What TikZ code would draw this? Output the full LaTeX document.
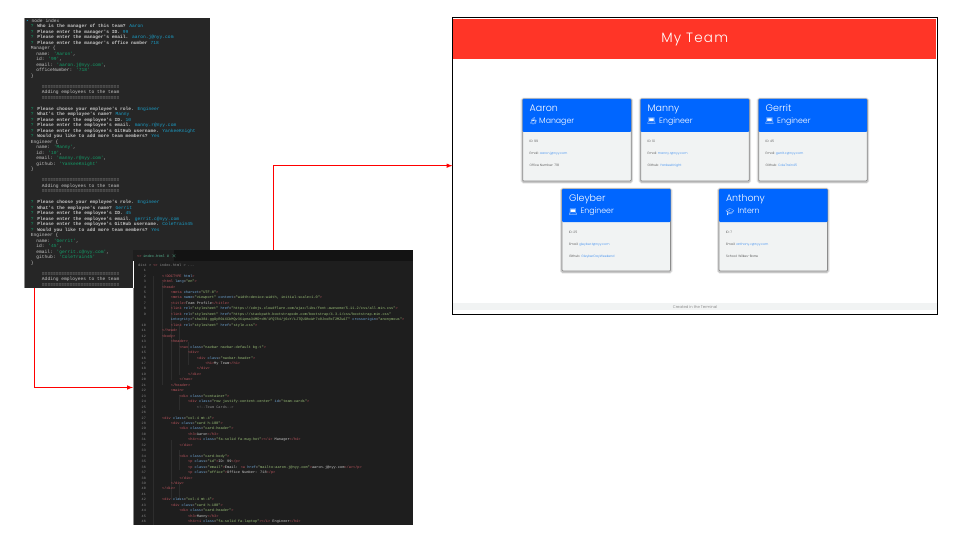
\documentclass[tikz,border=0pt]{standalone}
\usepackage{fontspec}
\usetikzlibrary{positioning}
\usetikzlibrary{calc}
\setmainfont{Poppins Light}[BoldFont=Poppins]
\newfontfamily\termfont{Liberation Mono}
\newfontfamily\emojifont{Noto Emoji}
\newfontfamily\spacedfont[LetterSpace=9]{Poppins Light}
\definecolor{termbg}{HTML}{262626}
\definecolor{termtext}{HTML}{C4C4C4}
\definecolor{termcyan}{HTML}{1A9FC9}
\definecolor{termgreen}{HTML}{12A06A}
\definecolor{codebg}{HTML}{1E1E1E}
\definecolor{codeguide}{HTML}{2D2D2D}
\definecolor{tabbg}{HTML}{131313}
\definecolor{codegrey}{HTML}{8A8A8A}
\definecolor{codetag}{HTML}{C0565F}
\definecolor{codeattr}{HTML}{6FA8D8}
\definecolor{codestr}{HTML}{9CC27A}
\definecolor{codetext}{HTML}{C8C8C8}
\definecolor{teamred}{HTML}{FF3527}
\definecolor{cardblue}{HTML}{0066FF}
\definecolor{cardgrey}{HTML}{F1F3F3}
\definecolor{linkblue}{HTML}{2F86F0}
\newcommand{\termq}[2]{\textcolor{termgreen}{?} \textbf{#1} \textcolor{termcyan}{#2}}
\newcommand{\termkv}[2]{#1: \textcolor{termgreen}{#2}}
\newcommand{\ctag}[1]{\textcolor{codetag}{#1}}
\newcommand{\cattr}[2]{\textcolor{codeattr}{#1}=\textcolor{codestr}{"#2"}}
\tikzset{
  termline/.style={anchor=base west,inner sep=0pt,text=termtext,font=\termfont\fontsize{4.6}{5}\selectfont},
  codeline/.style={anchor=base west,inner sep=0pt,text=codetext,font=\termfont\fontsize{3.6}{4}\selectfont},
  codenum/.style={anchor=base east,inner sep=0pt,text=codegrey,font=\termfont\fontsize{3.4}{4}\selectfont},
  cardbody/.style={anchor=north west,minimum width=108.5pt,minimum height=82pt,inner sep=0pt,outer sep=0pt,fill=cardgrey,draw=black!45,line width=.7pt,rounded corners=1pt,
    preaction={draw=black,draw opacity=.09,line width=4pt,transform canvas={yshift=-.6pt}},
    preaction={draw=black,draw opacity=.14,line width=2.4pt,transform canvas={yshift=-.6pt}}},
  cardhead/.style={anchor=north west,minimum width=108.5pt,minimum height=33pt,inner sep=0pt,outer sep=0pt,fill=cardblue,rounded corners=1pt},
  cardname/.style={anchor=base west,inner sep=0pt,text=white,font=\fontsize{9.5}{11}\selectfont},
  cardrole/.style={anchor=base west,inner sep=0pt,text=white,font=\fontsize{7.8}{9}\selectfont},
  cardicon/.style={anchor=base west,inner sep=0pt,text=white,font=\emojifont\fontsize{7}{9}\selectfont},
  cardfact/.style={anchor=base west,inner sep=0pt,text=black!75,font=\fontsize{3.2}{4}\selectfont},
  flow/.style={draw=red,line width=1pt,-latex}
}
\begin{document}
\begin{tikzpicture}[x=1pt,y=-1pt]
\useasboundingbox (0,0) rectangle (960,540);
\node[fill=termbg,minimum width=186pt,minimum height=270pt,inner sep=0pt,outer sep=0pt] (term) at (117,153) {};
\draw[black!45,line width=1pt] (24.5,18) -- (24.5,288);
\foreach \lev/\ltext [count=\rowno from 0] in {
-1.7/{\textcolor{termcyan}{\textbullet} node index},
0/{\termq{Who is the manager of this team?}{Aaron}},
0/{\termq{Please enter the manager's ID.}{99}},
0/{\termq{Please enter the manager's email.}{aaron.j@nyy.com}},
0/{\termq{Please enter the manager's office number}{718}},
0/{Manager \{},
2/{\termkv{name}{'Aaron'},},
2/{\termkv{id}{'99'},},
2/{\termkv{email}{'aaron.j@nyy.com'},},
2/{\termkv{officeNumber}{'718'}},
0/{\}},
0/{},
4/{============================},
4/{Adding employees to the team},
4/{============================},
0/{},
0/{\termq{Please choose your employee's role.}{Engineer}},
0/{\termq{What's the employee's name?}{Manny}},
0/{\termq{Please enter the employee's ID.}{10}},
0/{\termq{Please enter the employee's email.}{manny.r@nyy.com}},
0/{\termq{Please enter the employee's GitHub username.}{YankeeKnight}},
0/{\termq{Would you like to add more team members?}{Yes}},
0/{Engineer \{},
2/{\termkv{name}{'Manny'},},
2/{\termkv{id}{'10'},},
2/{\termkv{email}{'manny.r@nyy.com'},},
2/{\termkv{github}{'YankeeKnight'}},
0/{\}},
0/{},
4/{============================},
4/{Adding employees to the team},
4/{============================},
0/{},
0/{\termq{Please choose your employee's role.}{Engineer}},
0/{\termq{What's the employee's name?}{Gerrit}},
0/{\termq{Please enter the employee's ID.}{45}},
0/{\termq{Please enter the employee's email.}{gerrit.c@nyy.com}},
0/{\termq{Please enter the employee's GitHub username.}{ColeTrain45}},
0/{\termq{Would you like to add more team members?}{Yes}},
0/{Engineer \{},
2/{\termkv{name}{'Gerrit'},},
2/{\termkv{id}{'45'},},
2/{\termkv{email}{'gerrit.c@nyy.com'},},
2/{\termkv{github}{'ColeTrain45'}},
0/{\}},
0/{},
4/{============================},
4/{Adding employees to the team},
4/{============================}}
  \node[termline] (term\rowno) at ({30.7+\lev*2.77},{22.5+\rowno*5.49}) {\ltext};
\node[fill=codebg,draw=white,line width=.8pt,minimum width=280pt,minimum height=275pt,inner sep=0pt,outer sep=0pt] (editor) at (273,387.5) {};
\fill[tabbg] (133.4,250.4) rectangle (412.6,261);
\fill[codebg] (133.4,250.4) rectangle (174,261);
\draw[black!45,line width=1pt] (133.5,288) -- (133.5,525);
\node[codeline,text=termgreen!70!white] (tabname) at (143,257.2) {index.html U $\times$};
\node[codeline,text=codetag] (tabicon) at (137,257.2) {<>};
\node[codeline,text=codegrey] (crumb) at (138,266.2) {dist > \textcolor{codetag}{<>} index.html > ...};
\foreach \gx/\gtop/\gbot in {153.5/276/525,162/282/385,170.7/304/380,179.3/325/375,188/342/365,179.3/395/410,170.7/440/500,179.3/450/470,179.3/482/500}
  \draw[codeguide,line width=.4pt] (\gx,\gtop) -- (\gx,\gbot);
\foreach \lnum/\lev/\ltext [count=\rowno from 0] in {
1/0/{},
2/0/{\ctag{<!DOCTYPE} \textcolor{codeattr}{html}\ctag{>}},
3/0/{\ctag{<html} \cattr{lang}{en}\ctag{>}},
4/0/{\ctag{<head>}},
5/1/{\ctag{<meta} \cattr{charset}{UTF-8}\ctag{>}},
6/1/{\ctag{<meta} \cattr{name}{viewport} \cattr{content}{width=device-width, initial-scale=1.0}\ctag{>}},
7/1/{\ctag{<title>}Team Profile\ctag{</title>}},
8/1/{\ctag{<link} \cattr{rel}{stylesheet} \cattr{href}{https://cdnjs.cloudflare.com/ajax/libs/font-awesome/5.11.2/css/all.min.css}\ctag{>}},
9/1/{\ctag{<link} \cattr{rel}{stylesheet} \cattr{href}{https://stackpath.bootstrapcdn.com/bootstrap/4.3.1/css/bootstrap.min.css}},
{}/1/{\cattr{integrity}{sha384-ggOyR0iXCbMQv3Xipma34MD+dH/1fQ784/j6cY/iJTQUOhcWr7x9JvoRxT2MZw1T} \cattr{crossorigin}{anonymous}\ctag{>}},
10/1/{\ctag{<link} \cattr{rel}{stylesheet} \cattr{href}{style.css}\ctag{>}},
11/0/{\ctag{</head>}},
12/0/{\ctag{<body>}},
13/1/{\ctag{<header>}},
14/2/{\ctag{<nav} \cattr{class}{navbar navbar-default bg-t}\ctag{>}},
15/3/{\ctag{<div>}},
16/4/{\ctag{<div} \cattr{class}{navbar-header}\ctag{>}},
17/5/{\ctag{<h1>}My Team\ctag{</h1>}},
18/4/{\ctag{</div>}},
19/3/{\ctag{</div>}},
20/2/{\ctag{</nav>}},
21/1/{\ctag{</header>}},
22/1/{\ctag{<main>}},
23/2/{\ctag{<div} \cattr{class}{container}\ctag{>}},
24/3/{\ctag{<div} \cattr{class}{row justify-content-center} \cattr{id}{team-cards}\ctag{>}},
25/4/{\textcolor{codegrey}{<!--Team Cards-->}},
26/0/{},
27/0/{\ctag{<div} \cattr{class}{col-4 mt-4}\ctag{>}},
28/1/{\ctag{<div} \cattr{class}{card h-100}\ctag{>}},
29/2/{\ctag{<div} \cattr{class}{card-header}\ctag{>}},
30/3/{\ctag{<h3>}Aaron\ctag{</h3>}},
31/3/{\ctag{<h4><i} \cattr{class}{fa-solid fa-mug-hot}\ctag{></i>} Manager\ctag{</h4>}},
32/2/{\ctag{</div>}},
33/0/{},
34/2/{\ctag{<div} \cattr{class}{card-body}\ctag{>}},
35/3/{\ctag{<p} \cattr{class}{id}\ctag{>}ID: 99\ctag{</p>}},
36/3/{\ctag{<p} \cattr{class}{email}\ctag{>}Email: \ctag{<a} \cattr{href}{mailto:aaron.j@nyy.com}\ctag{>}aaron.j@nyy.com\ctag{</a></p>}},
37/3/{\ctag{<p} \cattr{class}{office}\ctag{>}Office Number: 718\ctag{</p>}},
38/2/{\ctag{</div>}},
39/1/{\ctag{</div>}},
40/0/{\ctag{</div>}},
41/0/{},
42/0/{\ctag{<div} \cattr{class}{col-4 mt-4}\ctag{>}},
43/1/{\ctag{<div} \cattr{class}{card h-100}\ctag{>}},
44/2/{\ctag{<div} \cattr{class}{card-header}\ctag{>}},
45/3/{\ctag{<h3>}Manny\ctag{</h3>}},
46/3/{\ctag{<h4><i} \cattr{class}{fa-solid fa-laptop}\ctag{></i>} Engineer\ctag{</h4>}}}
{
  \node[codenum] (num\rowno) at (146,{271.7+\rowno*5.457}) {\lnum};
  \node[codeline] (code\rowno) at ({162+\lev*8.67},{271.7+\rowno*5.457}) {\ltext};
}
\node[fill=white,draw=black,line width=1.1pt,minimum width=485.2pt,minimum height=296.8pt,inner sep=0pt,outer sep=0pt] (browser) at (695.1,165.7) {};
\node[fill=teamred,minimum width=482.6pt,minimum height=40pt,inner sep=0pt,outer sep=0pt] (banner) at (694.7,39.3) {};
\node[inner sep=0pt,text=white,font=\spacedfont\fontsize{13.5}{16}\selectfont] (bannertext) at (694.7,39.8) {My Team};
\node[fill=cardgrey,minimum width=484pt,minimum height=7pt,inner sep=0pt,outer sep=0pt,text=black!55,font=\fontsize{3.8}{5}\selectfont] (footer) at (695.1,306.7) {Created in the Terminal};
\foreach \cname/\cx/\cy/\cicon/\rx/\crole/\cid/\cmail/\cthird in {
Aaron/522.7/99/☕/16.3/Manager/99/aaron.j@nyy.com/{Office Number: 718},
Manny/640.7/99/💻/18.3/Engineer/10/manny.r@nyy.com/{Github: \textcolor{linkblue}{YankeeKnight}},
Gerrit/758.7/99/💻/18.3/Engineer/45/gerrit.c@nyy.com/{Github: \textcolor{linkblue}{ColeTrain45}},
Gleyber/562/189/💻/18.3/Engineer/25/gleyber.t@nyy.com/{Github: \textcolor{linkblue}{GleyberDayWeekend}},
Anthony/719/189/🎓/18.3/Intern/7/anthony.v@nyy.com/{School: Wilkes-Barre}}
{
  \node[cardbody] (\cname) at (\cx,\cy) {};
  \node[cardhead] (\cname-head) at (\cname.north west) {};
  \node[cardname] (\cname-name) at ($(\cname.north west)+(6.8,12.6)$) {\cname};
  \node[cardicon] (\cname-icon) at ($(\cname.north west)+(6.3,25)$) {\cicon};
  \node[cardrole] (\cname-role) at ($(\cname.north west)+(\rx,24.6)$) {\crole};
  \node[cardfact] (\cname-id) at ($(\cname.north west)+(6.8,44)$) {ID: \cid};
  \node[cardfact] (\cname-mail) at ($(\cname.north west)+(6.8,56)$) {Email: \textcolor{linkblue}{\cmail}};
  \node[cardfact] (\cname-third) at ($(\cname.north west)+(6.8,68)$) {\cthird};
}
\coordinate (termout) at (34.5,288);
\draw[flow] (termout) |- (editor.west);
\draw[flow] (editor.north) |- (browser.west);
\end{tikzpicture}
\end{document}
